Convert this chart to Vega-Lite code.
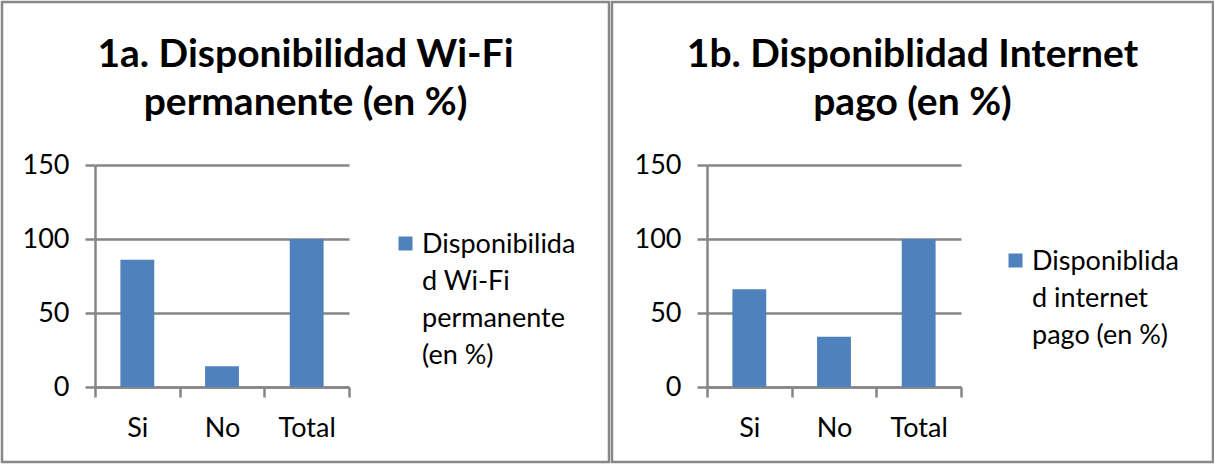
{
  "$schema": "https://vega.github.io/schema/vega-lite/v6.json",
  "padding": 0,
  "bounds": "flush",
  "spacing": 3,
  "config": {
    "font": "Lato",
    "view": {"stroke": "#888888", "strokeWidth": 2.5},
    "axis": {
      "domainColor": "#868686", "domainWidth": 2.5,
      "tickColor": "#868686", "tickWidth": 2.5, "tickSize": 10,
      "gridColor": "#868686", "gridWidth": 2.5,
      "labelFont": "Lato", "labelFontSize": 27, "labelColor": "#000000",
      "title": null
    },
    "legend": {
      "orient": "none", "title": null, "symbolType": "square", "symbolSize": 196,
      "symbolStrokeWidth": 0, "symbolOpacity": 1, "labelFont": "Lato", "labelFontSize": 27,
      "labelColor": "#000000", "labelOffset": 3, "labelLimit": 400, "padding": 0,
      "labelBaseline": "alphabetic"
    },
    "title": {"font": "Lato", "fontSize": 39, "fontWeight": "bold", "color": "#000000", "anchor": "middle", "frame": "group", "lineHeight": 48, "offset": -121}
  },
  "resolve": {"scale": {"color": "independent", "x": "independent", "y": "independent"}, "legend": {"color": "independent"}},
  "hconcat": [
    {
      "width": 607, "height": 460,
      "title": {"text": ["1a. Disponibilidad Wi-Fi", "permanente (en %)"]},
      "data": {"values": [
        {"categoria": "Si", "valor": 86, "serie": "Disponibilidad Wi-Fi permanente (en %)"},
        {"categoria": "No", "valor": 14, "serie": "Disponibilidad Wi-Fi permanente (en %)"},
        {"categoria": "Total", "valor": 100, "serie": "Disponibilidad Wi-Fi permanente (en %)"}
      ]},
      "mark": {"type": "bar", "width": {"band": 0.4}},
      "encoding": {
        "x": {"field": "categoria", "type": "nominal", "sort": null,
          "scale": {"range": [93, 347], "paddingInner": 0, "paddingOuter": 0},
          "axis": {"orient": "bottom", "offset": -75, "labelAngle": 0, "tickBand": "extent", "labelBaseline": "alphabetic", "labelPadding": 39, "grid": false}},
        "y": {"field": "valor", "type": "quantitative",
          "scale": {"domain": [0, 150], "range": [385, 163], "nice": false, "zero": true},
          "axis": {"orient": "left", "offset": -93, "values": [0, 50, 100, 150], "grid": true, "labelPadding": 16}},
        "color": {"field": "serie", "type": "nominal", "scale": {"range": ["#4F81BD"]},
          "legend": {"legendX": 390, "legendY": 228,
            "labelExpr": "[substring(datum.label,0,13), substring(datum.label,13,20), substring(datum.label,21,31), substring(datum.label,32)]",
            "encode": {"labels": {"update": {"lineHeight": {"value": 37}, "dy": {"value": 9}}}}}}
      }
    },
    {
      "width": 601, "height": 460,
      "title": {"text": ["1b. Disponiblidad Internet", "pago (en %)"]},
      "data": {"values": [
        {"categoria": "Si", "valor": 66, "serie": "Disponiblidad internet pago (en %)"},
        {"categoria": "No", "valor": 34, "serie": "Disponiblidad internet pago (en %)"},
        {"categoria": "Total", "valor": 100, "serie": "Disponiblidad internet pago (en %)"}
      ]},
      "mark": {"type": "bar", "width": {"band": 0.4}},
      "encoding": {
        "x": {"field": "categoria", "type": "nominal", "sort": null,
          "scale": {"range": [95, 349], "paddingInner": 0, "paddingOuter": 0},
          "axis": {"orient": "bottom", "offset": -75, "labelAngle": 0, "tickBand": "extent", "labelBaseline": "alphabetic", "labelPadding": 39, "grid": false}},
        "y": {"field": "valor", "type": "quantitative",
          "scale": {"domain": [0, 150], "range": [385, 163], "nice": false, "zero": true},
          "axis": {"orient": "left", "offset": -95, "values": [0, 50, 100, 150], "grid": true, "labelPadding": 16}},
        "color": {"field": "serie", "type": "nominal", "scale": {"range": ["#4F81BD"]},
          "legend": {"legendX": 390, "legendY": 245,
            "labelExpr": "[substring(datum.label,0,12), substring(datum.label,12,22), substring(datum.label,23)]",
            "encode": {"labels": {"update": {"lineHeight": {"value": 37}, "dy": {"value": 9}}}}}}
      }
    }
  ]
}
